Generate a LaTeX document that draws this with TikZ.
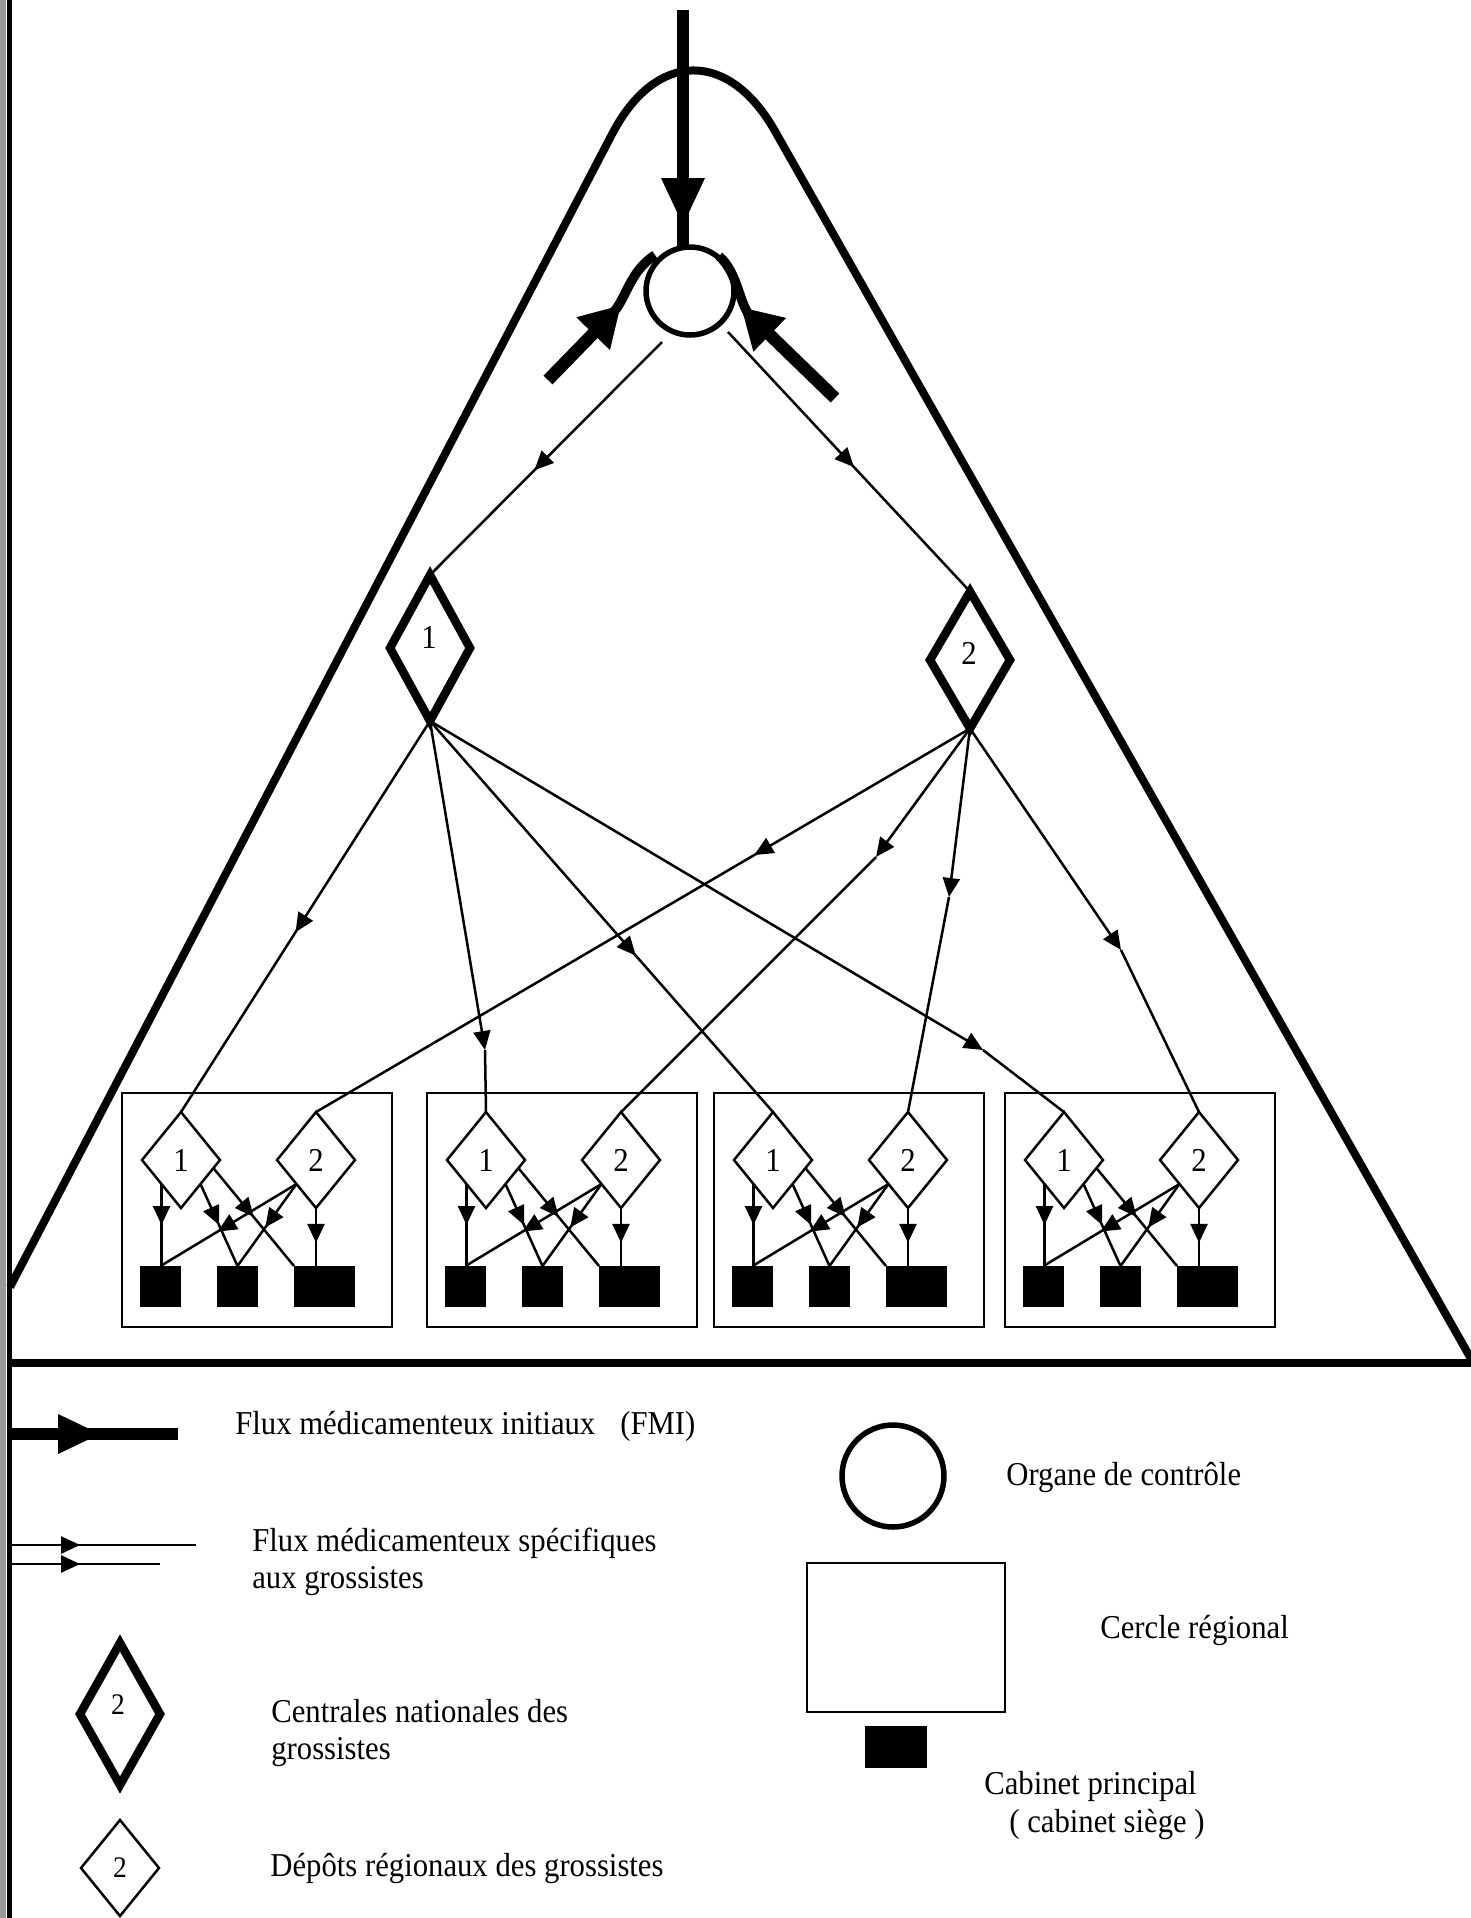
\documentclass[tikz,border=0pt]{standalone}
\usepackage{fontspec}
\setmainfont{Liberation Serif}[FakeStretch=0.92]
\usetikzlibrary{arrows.meta,shapes.geometric,decorations.markings,calc}
\tikzset{
  thinln/.style={line width=0.05cm},
  flow/.style={thinln, postaction={decorate},
    decoration={markings, mark=at position #1 with {\arrow{>}}}},
  flow/.default=0.5,
  bigdia/.style={diamond, draw, line width=0.17cm, inner sep=0pt, outer sep=0pt,
    minimum width=1.6cm, minimum height=2.92cm},
  smalldia/.style={diamond, draw, line width=0.05cm, inner sep=0pt, outer sep=0pt,
    minimum width=1.56cm, minimum height=1.92cm, font=\fontsize{19}{19}\selectfont},
  dig/.style={inner sep=0pt, font=\fontsize{19}{19}\selectfont},
  cab/.style={fill=black, inner sep=0pt, outer sep=0pt, minimum width=0.82cm, minimum height=0.82cm},
  regbox/.style={draw, line width=0.045cm, inner sep=0pt, outer sep=0pt,
    minimum width=5.4cm, minimum height=4.68cm},
  ctrlc/.style={circle, draw, line width=0.11cm, inner sep=0pt, outer sep=0pt, minimum size=1.76cm},
  thick/.style={line width=0.25cm},
  bigtip/.style={-{Triangle[length=0.8cm,width=0.88cm]}},
  txt/.style={anchor=west, inner sep=0pt, align=left, font=\fontsize{19}{21}\selectfont},
}
\begin{document}
\begin{tikzpicture}[x=0.02cm, y=-0.02cm, >={Triangle[length=0.38cm,width=0.34cm]}]
\fill[white] (0,0) rectangle (1471,1918);
\useasboundingbox (0,0) rectangle (1471,1918);

% scanned left edge
\fill[black!40] (0,0) rectangle (6,1918);
\draw[line width=0.11cm] (9.5,0) -- (9.5,1918);

% big triangle
\coordinate (tL) at (10,1287);
\coordinate (tA) at (691,-17);
\coordinate (tR) at (1474,1364);
\coordinate (bL) at (10,1363);
\draw[line width=0.16cm, rounded corners=3.4cm] (tL) -- (tA) -- (tR);
\draw[line width=0.16cm] (bL) -- (1474,1363);

% control organ
\node[ctrlc] (ctrl) at (690,291) {};
\coordinate (top) at (683,10);
\coordinate (vt) at (top |- ctrl.north);
\draw[thick] (top) -- (vt);
\fill ($(vt)+(-22,-69)$) -- ($(vt)+(22,-69)$) -- ($(vt)+(0,-22)$) -- cycle;

\coordinate (la) at (548,380);
\coordinate (lb) at (593,334);
\coordinate (lt) at (621,305);
\coordinate (lc) at (655,255);
\draw[thick, bigtip] (la) -- (lt);
\draw[line width=0.19cm] (lb) -- (612,314) .. controls (627,298) and (629,272) .. (lc);

\coordinate (ra) at (835,398);
\coordinate (rb) at (770,335);
\coordinate (rt) at (741,307);
\coordinate (rc) at (719,256);
\draw[thick, bigtip] (ra) -- (rt);
\draw[line width=0.19cm] (rb) -- (750,316) .. controls (739,303) and (738,273) .. (rc);

% national centrals
\node[bigdia] (D1) at (430,648) {};
\node[dig] (D1t) at (429,637) {1};
\node[bigdia, minimum height=2.74cm] (D2) at (970,660) {};
\node[dig] (D2t) at (969,653) {2};

\draw[flow=0.55] ($(ctrl.center)+(-28,51)$) -- (D1.north);
\draw[flow=0.52] ($(ctrl.center)+(38,41)$) -- (D2.north);

% regional circles
\foreach \i/\L in {1/122,2/427,3/714,4/1005}{
  \node[regbox] (b\i) at (\L+135,1210) {};
  \node[smalldia] (b\i d1) at (\L+59,1160) {1};
  \node[smalldia] (b\i d2) at (\L+194,1160) {2};
  \node[cab] (b\i s1) at (\L+38.5,1286.5) {};
  \node[cab] (b\i s2) at (\L+115.5,1286.5) {};
  \node[cab, minimum width=1.22cm] (b\i s3) at (\L+202.5,1286.5) {};
}
\foreach \i in {1,2,3,4}{
  \draw[flow=0.5] (b\i d1.south west) -- (b\i d1.south west |- b\i s1.north);
  \draw[flow=0.5] (b\i d1.south east) -- (b\i s2.north);
  \draw[flow=0.5] (b\i d1.-14) -- (b\i s3.north west);
  \draw[flow=0.58] (b\i d2.south west) -- (b\i s1.north);
  \draw[flow=0.53] (b\i d2.south west) -- (b\i s2.north);
  \draw[flow=0.6] (b\i d2.south) -- (b\i d2.south |- b\i s3.north);
}

% fan from D1
\coordinate (k2) at (485,1050);
\coordinate (k4) at (983,1050);
\draw[flow=0.54] (D1.south) -- (b1d1.north);
\draw[thinln,->] (D1.south) -- (k2);
\draw[thinln] (k2) -- (b2d1.north);
\draw[flow=0.6] (D1.south) -- (b3d1.north);
\draw[thinln,->] (D1.south) -- (k4);
\draw[thinln] (k4) -- (b4d1.north);

% fan from D2
\coordinate (k6) at (876,857);
\coordinate (k7) at (949,897);
\coordinate (k8) at (1121,950);
\draw[flow=0.33] (D2.south) -- (b1d2.north);
\draw[thinln,->] (D2.south) -- (k6);
\draw[thinln] (k6) -- (b2d2.north);
\draw[thinln,->] (D2.south) -- (k7);
\draw[thinln] (k7) -- (b3d2.north);
\draw[thinln,->] (D2.south) -- (k8);
\draw[thinln] (k8) -- (b4d2.north);

% legend left
\coordinate (L1a) at (12,1434);
\coordinate (L1b) at (178,1434);
\draw[thick] (L1a) -- (L1b);
\fill ($(L1a)+(46,-20)$) -- ($(L1a)+(46,20)$) -- ($(L1a)+(88,0)$) -- cycle;
\node[txt] (t1) at (235,1426) {Flux médicamenteux initiaux\hspace{0.75em}(FMI)};

\coordinate (L2a) at (12,1545);
\coordinate (L2b) at (196,1545);
\coordinate (L3a) at (12,1564);
\coordinate (L3b) at (160,1564);
\draw[flow=0.37] (L2a) -- (L2b);
\draw[flow=0.46] (L3a) -- (L3b);
\node[txt] (t2) at (252,1562) {Flux médicamenteux spécifiques\\aux grossistes};

\node[bigdia, minimum height=2.84cm] (lgD) at (120,1714) {};
\node[dig, font=\fontsize{17}{17}\selectfont] (lgDt) at (118,1705) {2};
\node[txt] (t3) at (271,1733) {Centrales nationales des\\grossistes};

\node[smalldia, font=\fontsize{17}{17}\selectfont] (lgd) at (120,1868) {2};
\node[txt] (t4) at (270,1868) {Dépôts régionaux des grossistes};

% legend right
\node[ctrlc, minimum size=2.04cm] (lgC) at (893,1476) {};
\node[txt] (t5) at (1006,1477) {Organe de contrôle};
\node[draw, line width=0.045cm, inner sep=0pt, minimum width=3.96cm, minimum height=2.98cm] (lgR) at (906,1637.5) {};
\node[txt] (t6) at (1100,1630) {Cercle régional};
\node[cab, minimum width=1.25cm, minimum height=0.83cm] (lgS) at (896,1747) {};
\node[txt] (t7) at (984,1786) {Cabinet principal};
\node[txt] (t8) at (1009,1824) {( cabinet siège )};
\end{tikzpicture}
\end{document}
